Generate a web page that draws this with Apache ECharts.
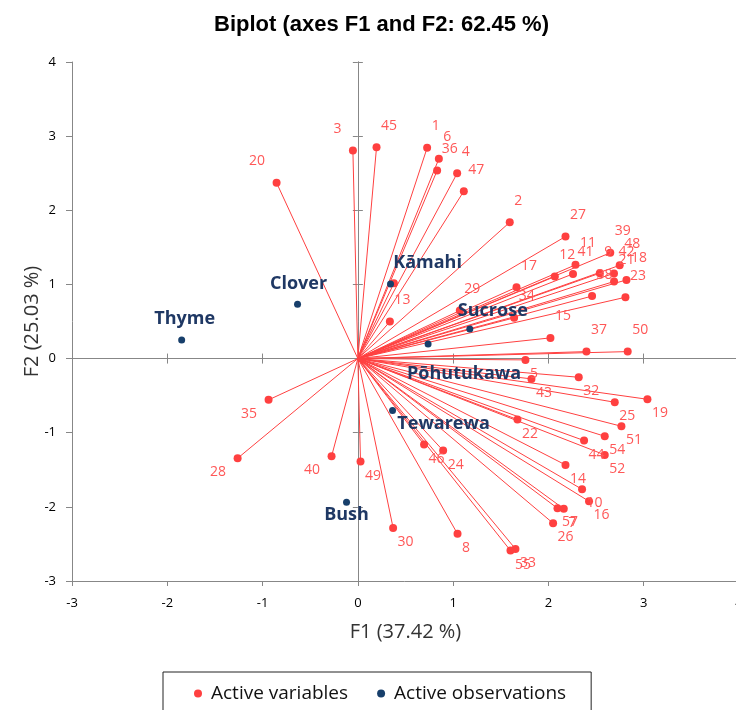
<!DOCTYPE html>
<html>
<head>
<meta charset="utf-8">
<script src="https://cdn.jsdelivr.net/npm/echarts@6/dist/echarts.min.js"></script>
<style>
    html, body { margin: 0; padding: 0; background: #fff; }
    #biplot { width: 736px; height: 710px; }
</style>
</head>
<body>
<div id="biplot"></div>
<script>
// variables (F1, F2 loadings)
const varNames = ['1', '2', '3', '4', '5', '6', '7', '8', '9', '10',
    '11', '12', '13', '14', '15', '16', '17', '18', '19', '20',
    '21', '22', '23', '24', '25', '26', '27', '28', '29', '30',
    '56', '32', '33', '34', '35', '36', '37', '38', '39', '40',
    '41', '42', '43', '44', '45', '46', '47', '48', '49', '50',
    '51', '52', '55', '54', '57'];
const varF1 = [0.727, 1.594, -0.052, 1.042, 1.759, 0.850, 2.161, 1.046, 2.539, 2.353,
    2.284, 2.067, 0.336, 2.179, 2.021, 2.426, 1.665, 2.819, 3.039, -0.853,
    2.689, 1.675, 2.808, 0.895, 2.696, 2.049, 2.179, -1.262, 1.070, 0.370,
    0.378, 2.318, 1.654, 1.640, -0.937, 0.832, 2.399, 2.458, 2.649, -0.276,
    2.258, 2.688, 1.822, 2.374, 0.196, 0.695, 1.112, 2.748, 0.028, 2.832,
    2.766, 2.591, 1.602, 2.591, 2.095];
const varF2 = [2.842, 1.838, 2.805, 2.499, -0.018, 2.694, -2.027, -2.364, 1.151, -1.763,
    1.264, 1.106, 0.499, -1.434, 0.279, -1.925, 0.962, 1.061, -0.549, 2.370,
    1.039, -0.823, 0.827, -1.241, -0.589, -2.221, 1.646, -1.345, 0.647, -2.284,
    1.016, -0.252, -2.567, 0.549, -0.557, 2.536, 0.094, 0.843, 1.427, -1.318,
    1.142, 1.149, -0.274, -1.106, 2.850, -1.160, 2.257, 1.258, -1.389, 0.094,
    -0.913, -1.299, -2.590, -1.048, -2.019];
// label hidden behind Kāmahi in the original
const hiddenLabels = ['56'];

// observations
const obsNames = ['Thyme', 'Clover', 'Kāmahi', 'Sucrose', 'Pōhutukawa', 'Tewarewa', 'Bush'];
const obsF1 = [-1.849, -0.633, 0.343, 1.175, 0.737, 0.364, -0.119];
const obsF2 = [0.252, 0.732, 1.007, 0.400, 0.198, -0.700, -1.938];

// axes
const axisMin = -3, axisMax = 4, axisStep = 1;

const redDot = '#ff4040';
const redText = '#ff5757';
const navyDot = '#173f6b';
const navyText = '#1f3864';
const gray = '#878787';

// label offsets of observations (px)
const obsOffsets = [[3, -21], [1, -20], [37, -21], [23, -18], [36, 30], [51, 13], [0, 13]];

const makeAxis = function (extra) {
    return Object.assign({
        type: 'value',
        min: axisMin,
        max: axisMax,
        interval: axisStep,
        splitLine: { show: false },
        axisLine: { lineStyle: { color: gray, width: 1 } },
        axisTick: { length: 5, lineStyle: { color: gray } },
        axisLabel: { show: false }
    }, extra);
};

const initBiplot = function () {
    let myChart = echarts.init(document.getElementById('biplot'));

    let varData = [], lineData = [];
    varNames.forEach(function (name, i) {
        let x = varF1[i], y = varF2[i];
        let right = x >= 0;
        varData.push({
            name: name,
            value: [x, y],
            label: {
                show: hiddenLabels.indexOf(name) < 0,
                position: right ? 'right' : 'left',
                distance: 0,
                offset: [right ? 0.5 : -7.5, y >= 0 ? -21.5 : 14]
            }
        });
        lineData.push({ coords: [[0, 0], [x, y]] });
    });

    let obsData = obsNames.map(function (name, i) {
        return {
            name: name,
            value: [obsF1[i], obsF2[i]],
            label: { offset: obsOffsets[i] }
        };
    });

    let option = {
        animation: false,
        title: {
            text: 'Biplot (axes F1 and F2: 62.45 %)',
            left: 209,
            top: 9,
            textStyle: { fontFamily: 'Liberation Sans', fontWeight: 'bold', fontSize: 22, color: '#000' }
        },
        legend: {
            data: ['Active variables', 'Active observations'],
            left: 163,
            top: 672,
            icon: 'circle',
            itemWidth: 16,
            itemHeight: 8,
            itemGap: 29,
            padding: [12, 25, 20, 31],
            borderColor: '#222',
            borderWidth: 1,
            textStyle: { fontFamily: 'Open Sans', fontSize: 19, color: '#111' }
        },
        grid: { left: 72, top: 62, right: -3, bottom: 129, outerBoundsMode: 'none', containLabel: false },
        xAxis: [
            makeAxis({
                position: 'bottom',
                axisLine: { onZero: false, lineStyle: { color: gray } },
                axisLabel: { show: true, margin: 16, color: '#000', fontFamily: 'Open Sans', fontSize: 13 },
                name: 'F1 (37.42 %)',
                nameLocation: 'middle',
                nameGap: 41,
                nameMoveOverlap: false,
                nameTextStyle: { fontFamily: 'Open Sans', fontSize: 20, color: '#333' }
            }),
            makeAxis({ position: 'bottom', axisLine: { onZero: true, onZeroAxisIndex: 0, lineStyle: { color: gray } } }),
            makeAxis({ position: 'top', axisLine: { onZero: true, onZeroAxisIndex: 0, lineStyle: { color: gray } } })
        ],
        yAxis: [
            makeAxis({
                position: 'left',
                axisLine: { onZero: false, lineStyle: { color: gray } },
                axisTick: { length: 6, lineStyle: { color: gray } },
                axisLabel: { show: true, margin: 16, color: '#000', fontFamily: 'Open Sans', fontSize: 13 },
                name: 'F2 (25.03 %)',
                nameLocation: 'middle',
                nameGap: 30,
                nameMoveOverlap: false,
                nameTextStyle: { fontFamily: 'Open Sans', fontSize: 20, color: '#333' }
            }),
            makeAxis({ position: 'left', axisLine: { onZero: true, onZeroAxisIndex: 0, lineStyle: { color: gray } } }),
            makeAxis({ position: 'right', axisLine: { onZero: true, onZeroAxisIndex: 0, lineStyle: { color: gray } } })
        ],
        series: [
            {
                name: 'vectors',
                type: 'lines',
                coordinateSystem: 'cartesian2d',
                xAxisIndex: 0,
                yAxisIndex: 0,
                silent: true,
                lineStyle: { color: redDot, width: 1, opacity: 1 },
                data: lineData,
                z: 3
            },
            {
                name: 'Active variables',
                type: 'scatter',
                symbol: 'circle',
                symbolSize: 8,
                itemStyle: { color: redDot, opacity: 1 },
                label: {
                    show: true,
                    formatter: '{b}',
                    color: redText,
                    fontFamily: 'Open Sans',
                    fontSize: 14
                },
                data: varData,
                z: 4
            },
            {
                name: 'Active observations',
                type: 'scatter',
                symbol: 'circle',
                symbolSize: 7,
                itemStyle: { color: navyDot, opacity: 1 },
                label: {
                    show: true,
                    position: 'inside',
                    formatter: '{b}',
                    color: navyText,
                    fontFamily: 'Open Sans',
                    fontWeight: 'bold',
                    fontSize: 18
                },
                data: obsData,
                z: 6
            }
        ]
    };

    myChart.setOption(option);
};

initBiplot();
</script>
</body>
</html>
